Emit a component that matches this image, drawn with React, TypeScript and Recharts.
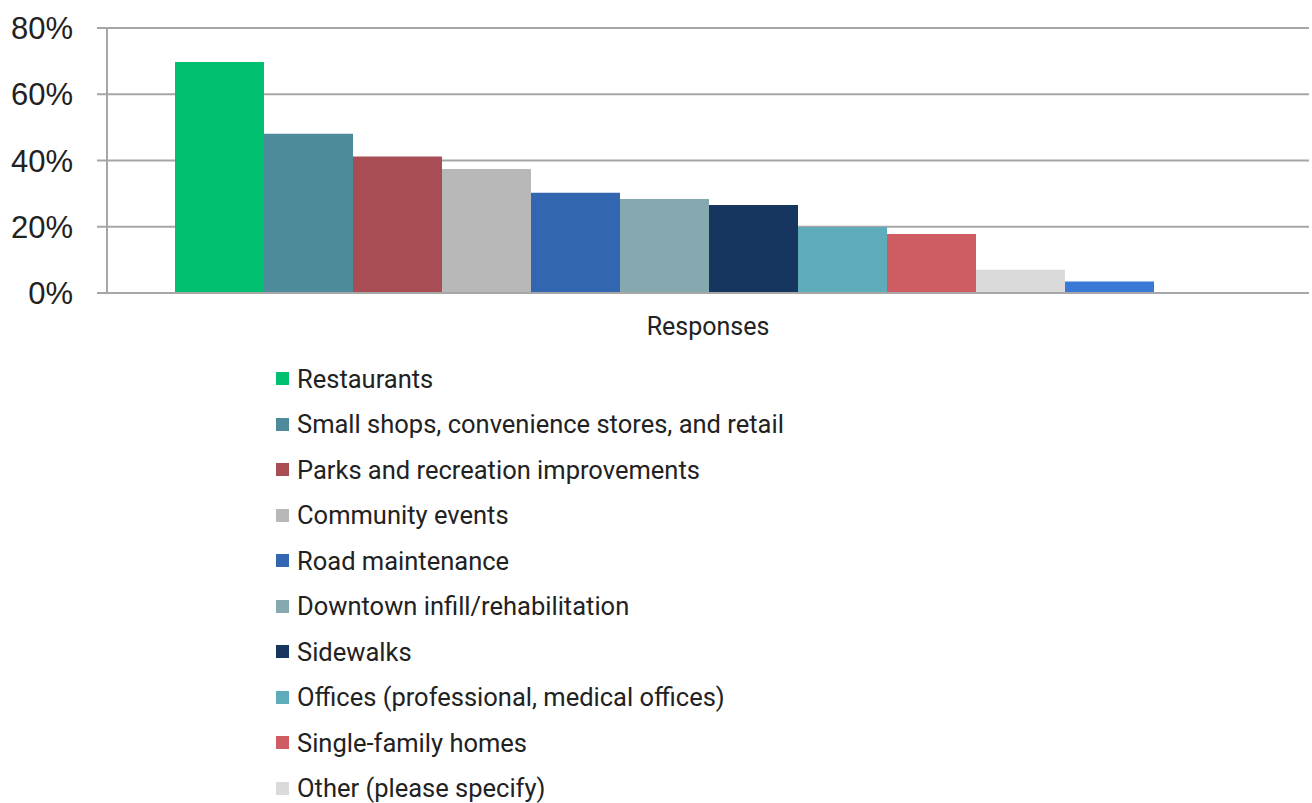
import React from 'react';
import {
  BarChart,
  Bar,
  XAxis,
  YAxis,
  CartesianGrid,
} from 'recharts';

// survey answers, share of respondents in percent
const categories = ['Responses'];

const seriesNames = [
  'Restaurants',
  'Small shops, convenience stores, and retail',
  'Parks and recreation improvements',
  'Community events',
  'Road maintenance',
  'Downtown infill/rehabilitation',
  'Sidewalks',
  'Offices (professional, medical offices)',
  'Single-family homes',
  'Other (please specify)',
  'Multi-family homes',
  'None of the above',
];

const seriesValues = [69.7, 48.1, 41.2, 37.4, 30.3, 28.4, 26.6, 19.9, 17.8, 7.0, 3.5, 0];

const seriesColors = [
  '#00bf6f',
  '#4d8b9a',
  '#a94d55',
  '#b8b8b8',
  '#3366b0',
  '#85a9ae',
  '#17365f',
  '#5eabba',
  '#d05c63',
  '#dadada',
  '#3a78d6',
  '#9fb8c8',
];

const yTicks = [0, 20, 40, 60, 80];

const data = categories.map((name) => {
  const row: Record<string, string | number> = { name };
  seriesNames.forEach((s, i) => {
    row[s] = seriesValues[i];
  });
  return row;
});

const App: React.FC = () => {
  return (
    <div
      style={{
        position: 'absolute',
        left: 0,
        top: 0,
        width: 1312,
        height: 803,
        overflow: 'hidden',
        background: '#fff',
      }}
    >
      <BarChart
        width={1312}
        height={350}
        data={data}
        margin={{ top: 28, right: 3, bottom: 27, left: 0 }}
        barCategoryGap={68}
        barGap={0}
      >
        <CartesianGrid vertical={false} stroke="#a6a6a6" strokeWidth={2} />
        <XAxis
          dataKey="name"
          axisLine={{ stroke: '#a6a6a6', strokeWidth: 2 }}
          tickLine={false}
          tickMargin={18}
          tick={{ fill: '#222', fontSize: 25, fontFamily: 'Roboto' }}
        />
        <YAxis
          width={107}
          domain={[0, 80]}
          ticks={yTicks}
          tickFormatter={(v) => `${v}%`}
          axisLine={{ stroke: '#a6a6a6', strokeWidth: 2 }}
          tickLine={{ stroke: '#a6a6a6', strokeWidth: 2 }}
          tickSize={10}
          tickMargin={24}
          tick={{ fill: '#222', fontSize: 31, fontFamily: 'Liberation Sans' }}
        />
        {seriesNames.map((s, i) => (
          <Bar key={s} dataKey={s} fill={seriesColors[i]} isAnimationActive={false} />
        ))}
      </BarChart>
      <div
        style={{
          position: 'absolute',
          left: 276,
          top: 356,
          fontFamily: 'Roboto',
          fontSize: 25.5,
          color: '#222',
        }}
      >
        {seriesNames.map((s, i) => (
          <div
            key={s}
            style={{ display: 'flex', alignItems: 'center', height: 45.5 }}
          >
            <span
              style={{
                display: 'inline-block',
                width: 13,
                height: 13,
                background: seriesColors[i],
                marginRight: 8,
              }}
            />
            <span>{s}</span>
          </div>
        ))}
      </div>
    </div>
  );
};

export default App;
